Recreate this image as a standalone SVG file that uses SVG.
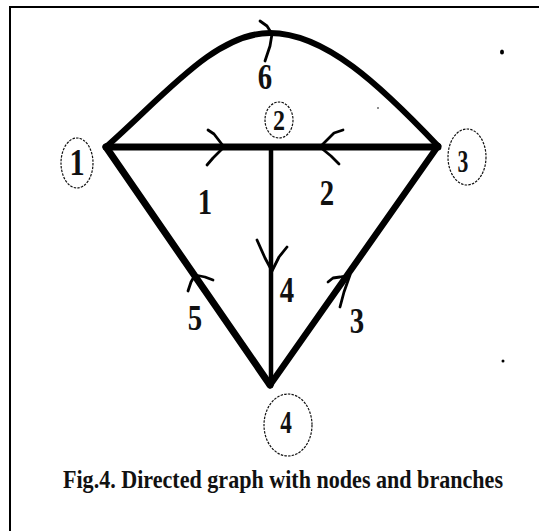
<svg xmlns="http://www.w3.org/2000/svg" width="539" height="531" viewBox="0 0 539 531">
<style>
.ring{fill:none;stroke:#111;stroke-width:1.2;stroke-dasharray:2.5 1.2}
.nl{font-family:"Liberation Serif","Times New Roman",serif;font-weight:bold;fill:#111;text-anchor:middle}
.br{fill:none;stroke:#000;stroke-linecap:round;stroke-linejoin:round}
.ar{fill:none;stroke:#000;stroke-width:2.8;stroke-linecap:round;stroke-linejoin:round}
.bl{font-family:"Liberation Serif","Times New Roman",serif;font-weight:bold;fill:#111;text-anchor:middle;font-size:36px}
</style>
<rect x="0" y="0" width="539" height="531" fill="#fff"/>
<path d="M10,532 V7 H540" fill="none" stroke="#000" stroke-width="2"/>
<g id="connectors">
  <path class="br" stroke-width="6" d="M106,147 C165,95 215,33 270,33 C325,33 380,85 438,146"/>
  <path class="br" stroke-width="7" d="M106,147 H438"/>
  <path class="br" stroke-width="4.5" d="M271,147 V386"/>
  <path class="br" stroke-width="7" d="M106,147 L270,385"/>
  <path class="br" stroke-width="6.5" d="M438,146 L270,385"/>
  <path class="ar" d="M260,21 L267,26 L272,34 L270,46 L265,61"/>
  <path class="ar" d="M208,130 L214,134 L224,147 L213,158 L207,165"/>
  <path class="ar" d="M343,130 L334,133 L320,147 L331,156 L339,164"/>
  <path class="ar" d="M257,240 L265,258 L272,271 L279,257 L287,247"/>
  <path class="ar" d="M188,291 L191,282 L195,275 L205,277 L213,280"/>
  <path class="ar" d="M328,282 L333,278 L340,277 L350,275 L344,292 L340,307"/>
  <text class="bl" x="265" y="89" transform="translate(265 0) scale(0.8 1) translate(-265 0)">6</text>
  <text class="bl" x="205" y="214" transform="translate(205 0) scale(0.8 1) translate(-205 0)">1</text>
  <text class="bl" x="327" y="205" transform="translate(327 0) scale(0.8 1) translate(-327 0)">2</text>
  <text class="bl" x="287" y="302" transform="translate(287 0) scale(0.8 1) translate(-287 0)">4</text>
  <text class="bl" x="195" y="330" transform="translate(195 0) scale(0.8 1) translate(-195 0)">5</text>
  <text class="bl" x="357" y="333" transform="translate(357 0) scale(0.8 1) translate(-357 0)">3</text>
</g>
<g id="node1">
  <ellipse class="ring" cx="77" cy="163" rx="16" ry="25"/>
  <text class="nl" x="77" y="175" font-size="38" transform="translate(77 0) scale(0.8 1) translate(-77 0)">1</text>
</g>
<g id="node2">
  <ellipse class="ring" cx="279" cy="120" rx="14" ry="18"/>
  <text class="nl" x="279" y="130" font-size="30" transform="translate(279 0) scale(0.8 1) translate(-279 0)">2</text>
</g>
<g id="node3">
  <ellipse class="ring" cx="467" cy="157" rx="19" ry="28"/>
  <text class="nl" x="463" y="172" font-size="31" transform="translate(463 0) scale(0.7 1) translate(-463 0)">3</text>
</g>
<g id="node4">
  <ellipse class="ring" cx="288" cy="425" rx="24" ry="31"/>
  <text class="nl" x="286" y="433" font-size="31" transform="translate(286 0) scale(0.75 1) translate(-286 0)">4</text>
</g>
<g id="dots" fill="#000">
  <ellipse cx="502" cy="52" rx="2" ry="2.5"/>
  <ellipse cx="503" cy="361" rx="1.5" ry="1.5"/>
  <circle cx="378" cy="108" r="0.8"/>
</g>
<text x="63" y="488" transform="translate(0 488) scale(1 1.13) translate(0 -488)" font-family="'Liberation Serif','Times New Roman',serif" font-weight="bold" font-size="22" fill="#111" textLength="440" lengthAdjust="spacingAndGlyphs">Fig.4. Directed graph with nodes and branches</text>
</svg>
